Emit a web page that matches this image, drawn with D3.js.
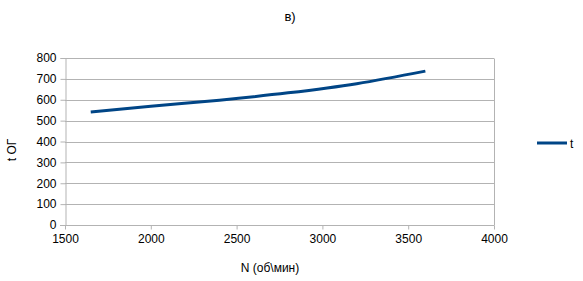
<!DOCTYPE html>
<html>
<head>
<meta charset="utf-8">
<script src="https://cdn.jsdelivr.net/npm/d3@7"></script>
<style>
  body { margin: 0; background: #fff; }
  text { font-family: "Liberation Sans", Arial, sans-serif; fill: #000; }
</style>
</head>
<body>
<svg id="chart" width="583" height="281"></svg>
<script>
// values
let rpm = [1650, 2000, 2400, 2800, 3200, 3600];
let temp = [541, 569, 598, 633, 677, 737];
let xTicks = [1500, 2000, 2500, 3000, 3500, 4000];
let yTicks = [0, 100, 200, 300, 400, 500, 600, 700, 800];
let seriesName = 't';

let svg = d3.select('#chart');
let m = {l: 65, r: 494, t: 58, b: 225};

let x = d3.scaleLinear().domain([1500, 4000]).range([m.l, m.r]);
let y = d3.scaleLinear().domain([0, 800]).range([m.b, m.t]);

// horizontal grid
svg.append('g').selectAll('line')
    .data(yTicks)
    .enter()
    .append('line')
    .attr('x1', m.l).attr('x2', m.r)
    .attr('y1', d => Math.round(y(d)) + 0.5).attr('y2', d => Math.round(y(d)) + 0.5)
    .attr('stroke', '#b3b3b3');

// right border of plot
svg.append('line')
    .attr('x1', m.r + 0.5).attr('x2', m.r + 0.5)
    .attr('y1', m.t + 0.5).attr('y2', m.b + 0.5)
    .attr('stroke', '#b3b3b3');

let xa = svg.append('g')
    .attr('transform', 'translate(0,' + (m.b + 0.5) + ')')
    .call(d3.axisBottom(x).tickValues(xTicks).tickSize(4).tickPadding(5).tickFormat(d3.format('d')));
let ya = svg.append('g')
    .attr('transform', 'translate(' + (m.l + 0.5) + ',0)')
    .call(d3.axisLeft(y).tickValues(yTicks).tickSize(5).tickPadding(4).tickFormat(d3.format('d')));

[xa, ya].forEach(a => {
    a.select('.domain').attr('stroke', '#b3b3b3');
    a.selectAll('.tick line').attr('stroke', '#b3b3b3');
    a.selectAll('text').style('font-size', '12px').style('font-family', '"Liberation Sans", Arial, sans-serif').attr('fill', '#000');
});
xa.select('.domain').attr('d', 'M' + (m.l - 5) + ',0H' + m.r);

let line = d3.line()
    .x((d, i) => x(rpm[i]))
    .y(d => y(d))
    .curve(d3.curveMonotoneX);

svg.append('path')
    .datum(temp)
    .attr('d', line)
    .attr('fill', 'none')
    .attr('stroke', '#004586')
    .attr('stroke-width', 3);

// titles
svg.append('text').attr('x', 290).attr('y', 21).attr('text-anchor', 'middle')
    .style('font-size', '13px').text('в)');
svg.append('text').attr('x', 270).attr('y', 272).attr('text-anchor', 'middle')
    .style('font-size', '12px').text('N (об\\мин)');
svg.append('text').attr('transform', 'translate(16,150) rotate(-90)').attr('text-anchor', 'middle')
    .style('font-size', '12px').text('t ОГ');

// legend
svg.append('line')
    .attr('x1', 537).attr('x2', 567).attr('y1', 143).attr('y2', 143)
    .attr('stroke', '#004586').attr('stroke-width', 3);
svg.append('text').attr('x', 570).attr('y', 148)
    .style('font-size', '12px').text(seriesName);
</script>
</body>
</html>
